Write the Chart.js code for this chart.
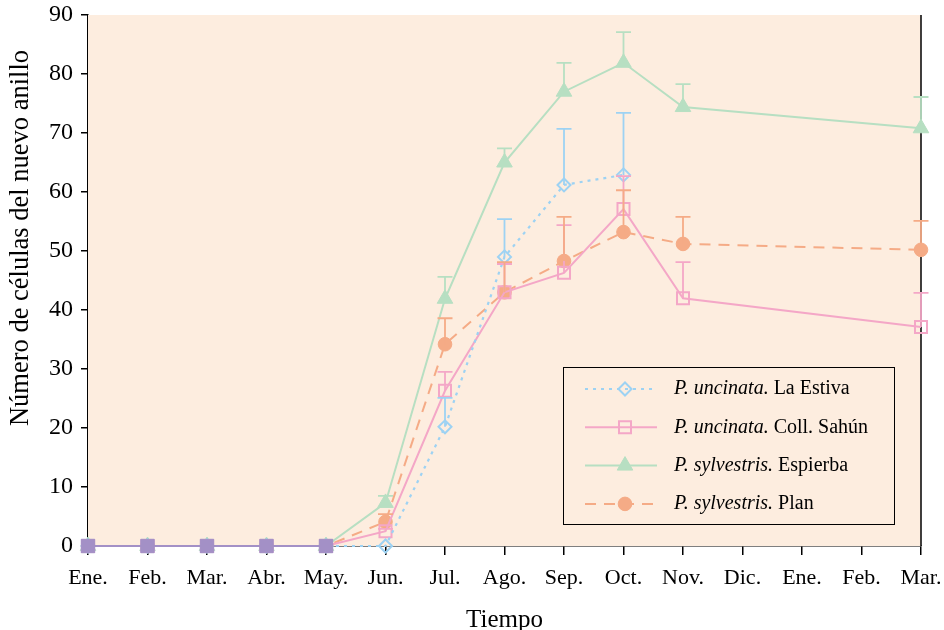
<!DOCTYPE html>
<html>
<head>
<meta charset="utf-8">
<script src="https://cdn.jsdelivr.net/npm/chart.js@4/dist/chart.umd.min.js"></script>
<style>
  html, body { margin: 0; padding: 0; background: #ffffff; }
  #wrap { width: 944px; height: 630px; position: relative; }
</style>
</head>
<body>
<div id="wrap"><canvas id="c" width="944" height="630"></canvas></div>
<script>
// Months of the sampling period (two consecutive years)
const months = ['Ene.', 'Feb.', 'Mar.', 'Abr.', 'May.', 'Jun.', 'Jul.', 'Ago.', 'Sep.', 'Oct.', 'Nov.', 'Dic.', 'Ene.', 'Feb.', 'Mar.'];
const yTicks = [0, 10, 20, 30, 40, 50, 60, 70, 80, 90];

// Mean number of cells in the new ring, per site
const estiva   = [0, 0, 0, 0, 0, 0,   20.2, 49.0, 61.2, 62.9, null, null, null, null, null];
const sahun    = [0, 0, 0, 0, 0, 2.5, 26.3, 43.0, 46.3, 57.1, 42.0, null, null, null, 37.1];
const espierba = [0, 0, 0, 0, 0, 7.3, 41.9, 65.0, 77.0, 81.9, 74.4, null, null, null, 70.8];
const plan     = [0, 0, 0, 0, 0, 4.1, 34.2, 43.0, 48.3, 53.2, 51.2, null, null, null, 50.2];
// Winter months where all four sites coincide at zero
const dormant  = [0, 0, 0, 0, 0, null, null, null, null, null, null, null, null, null, null];

// Upper error (standard deviation) for each mean
const estivaErr   = [null, null, null, null, null, null, 4.9, 6.4, 9.5, 10.5, null, null, null, null, null];
const sahunErr    = [null, null, null, null, null, 0.4,  3.2, 4.8, 8.1, 5.6,  6.1,  null, null, null, 5.8];
const espierbaErr = [null, null, null, null, null, 1.2,  3.7, 2.4, 4.9, 5.2,  3.9,  null, null, null, 5.3];
const planErr     = [null, null, null, null, null, 1.3,  4.4, 5.1, 7.5, 7.1,  4.6,  null, null, null, 4.9];

const PLOT_BG = '#FDEDDF';
const SERIF = '"Liberation Serif", "DejaVu Serif", serif';

const COL_ESTIVA = '#9DD2F3';
const COL_SAHUN = '#F4A7C7';
const COL_ESPIERBA = '#B7DFC2';
const COL_PLAN = '#F5AB86';
const COL_DORMANT = '#A390C6';

// Plot area fill and right frame line (beneath the series)
const plotBackground = {
  id: 'plotBackground',
  beforeDatasetsDraw(chart) {
    const { ctx, chartArea: a } = chart;
    ctx.save();
    ctx.fillStyle = PLOT_BG;
    ctx.fillRect(a.left, a.top, a.right - a.left, a.bottom - a.top);
    ctx.strokeStyle = '#000';
    ctx.lineWidth = 1.5;
    ctx.beginPath();
    ctx.moveTo(a.right, a.top);
    ctx.lineTo(a.right, a.bottom);
    ctx.stroke();
    ctx.restore();
  }
};

// Upper error bars with caps
const errorBars = {
  id: 'errorBars',
  afterDatasetsDraw(chart) {
    const { ctx } = chart;
    const xs = chart.scales.x, ys = chart.scales.y;
    ctx.save();
    chart.data.datasets.forEach((ds) => {
      if (!ds.errors) return;
      ctx.strokeStyle = ds.borderColor;
      ctx.lineWidth = 1.8;
      ctx.setLineDash([]);
      ds.data.forEach((v, i) => {
        const e = ds.errors[i];
        if (v == null || e == null) return;
        const x = xs.getPixelForValue(i);
        const y0 = ys.getPixelForValue(v);
        const y1 = ys.getPixelForValue(v + e);
        ctx.beginPath();
        ctx.moveTo(x, y0);
        ctx.lineTo(x, y1);
        ctx.moveTo(x - 7.5, y1);
        ctx.lineTo(x + 7.5, y1);
        ctx.stroke();
      });
    });
    ctx.restore();
  }
};

// Vertical axis title
const yTitle = {
  id: 'yTitle',
  afterDraw(chart) {
    const { ctx } = chart;
    ctx.save();
    ctx.translate(21, 238);
    ctx.rotate(-Math.PI / 2);
    ctx.fillStyle = '#000';
    ctx.font = '26.5px ' + SERIF;
    ctx.textAlign = 'center';
    ctx.textBaseline = 'middle';
    ctx.fillText('Número de células del nuevo anillo', 0, 0);
    ctx.restore();
  }
};

// Boxed legend inside the plot area
const boxLegend = {
  id: 'boxLegend',
  afterDraw(chart) {
    const { ctx } = chart;
    const box = { l: 563, t: 367, r: 894, b: 524 };
    ctx.save();
    ctx.fillStyle = PLOT_BG;
    ctx.fillRect(box.l, box.t, box.r - box.l, box.b - box.t);
    ctx.strokeStyle = '#000';
    ctx.lineWidth = 1;
    ctx.strokeRect(box.l + 0.5, box.t + 0.5, box.r - box.l, box.b - box.t);
    const rows = chart.data.datasets.filter(d => d.legendName);
    rows.forEach((ds, k) => {
      const y = 389 + k * 38.3;
      ctx.strokeStyle = ds.borderColor;
      ctx.lineWidth = 2;
      ctx.setLineDash(ds.borderDash || []);
      ctx.beginPath();
      ctx.moveTo(585, y);
      ctx.lineTo(657, y);
      ctx.stroke();
      ctx.setLineDash([]);
      ctx.fillStyle = ds.pointBackgroundColor;
      ctx.strokeStyle = ds.borderColor;
      ctx.lineWidth = ds.pointBorderWidth;
      Chart.helpers.drawPoint(ctx, {
        pointStyle: ds.pointStyle, radius: ds.pointRadius,
        rotation: 0, borderWidth: ds.pointBorderWidth
      }, 625, y);
      ctx.fillStyle = '#000';
      ctx.textBaseline = 'middle';
      ctx.textAlign = 'left';
      ctx.font = 'italic 20px ' + SERIF;
      ctx.fillText(ds.legendName[0], 674, y);
      const w = ctx.measureText(ds.legendName[0]).width;
      ctx.font = '20px ' + SERIF;
      ctx.fillText(ds.legendName[1], 674 + w, y);
    });
    ctx.restore();
  }
};

new Chart(document.getElementById('c'), {
  type: 'line',
  data: {
    labels: months,
    datasets: [
      {
        label: 'P. uncinata. La Estiva', legendName: ['P. uncinata.', ' La Estiva'],
        data: estiva, errors: estivaErr, clip: false,
        borderColor: COL_ESTIVA, borderDash: [3, 5], borderWidth: 2.2,
        pointStyle: 'rectRot', pointRadius: 6.5, pointBorderWidth: 2,
        pointBackgroundColor: 'rgba(0,0,0,0)', pointBorderColor: COL_ESTIVA,
        spanGaps: true
      },
      {
        label: 'P. uncinata. Coll. Sahún', legendName: ['P. uncinata.', ' Coll. Sahún'],
        data: sahun, errors: sahunErr, clip: false,
        borderColor: COL_SAHUN, borderWidth: 2,
        pointStyle: 'rect', pointRadius: 8.5, pointBorderWidth: 2,
        pointBackgroundColor: 'rgba(0,0,0,0)', pointBorderColor: COL_SAHUN,
        spanGaps: true
      },
      {
        label: 'P. sylvestris. Espierba', legendName: ['P. sylvestris.', ' Espierba'],
        data: espierba, errors: espierbaErr, clip: false,
        borderColor: COL_ESPIERBA, borderWidth: 2,
        pointStyle: 'triangle', pointRadius: 9, pointBorderWidth: 1,
        pointBackgroundColor: COL_ESPIERBA, pointBorderColor: COL_ESPIERBA,
        spanGaps: true
      },
      {
        label: 'P. sylvestris. Plan', legendName: ['P. sylvestris.', ' Plan'],
        data: plan, errors: planErr, clip: false,
        borderColor: COL_PLAN, borderDash: [11, 8], borderWidth: 2,
        pointStyle: 'circle', pointRadius: 6.8, pointBorderWidth: 1,
        pointBackgroundColor: COL_PLAN, pointBorderColor: COL_PLAN,
        spanGaps: true
      },
      {
        label: 'dormant', data: dormant, order: -1, clip: false,
        borderColor: COL_DORMANT, backgroundColor: COL_DORMANT,
        pointBackgroundColor: COL_DORMANT, pointBorderColor: COL_DORMANT,
        pointStyle: 'rect', pointRadius: 9.5, pointBorderWidth: 1, borderWidth: 2
      }
    ]
  },
  options: {
    responsive: false,
    animation: false,
    layout: { padding: { top: 15, right: 23, left: 0, bottom: 0 } },
    plugins: {
      legend: { display: false },
      tooltip: { enabled: false }
    },
    scales: {
      x: {
        type: 'category',
        offset: false,
        grid: { display: true, drawOnChartArea: false, drawTicks: true, tickLength: 9, color: '#000', lineWidth: 1.5, offset: false },
        border: { display: true, color: '#000', width: 1.5 },
        ticks: {
          autoSkip: false, maxRotation: 0, minRotation: 0, padding: 10,
          color: '#000', font: { family: SERIF, size: 22 }
        },
        title: {
          display: true, text: 'Tiempo', color: '#000',
          font: { family: SERIF, size: 25, lineHeight: 1.0 }, padding: { top: 8, bottom: -3 }
        },
        afterFit(scale) {
          scale.height = 84;
          scale.paddingLeft = 0;
          scale.paddingRight = 0;
        }
      },
      y: {
        min: 0, max: 90,
        afterBuildTicks(scale) { scale.ticks = yTicks.map(v => ({ value: v })); },
        grid: { display: true, drawOnChartArea: false, drawTicks: true, tickLength: 7, color: '#000', lineWidth: 1.5 },
        border: { display: true, color: '#000', width: 1.5 },
        ticks: { padding: 8, color: '#000', font: { family: SERIF, size: 24 } },
        afterFit(scale) {
          scale.width = 88;
          scale.paddingTop = 0;
          scale.paddingBottom = 0;
        }
      }
    }
  },
  plugins: [plotBackground, errorBars, yTitle, boxLegend]
});
</script>
</body>
</html>
